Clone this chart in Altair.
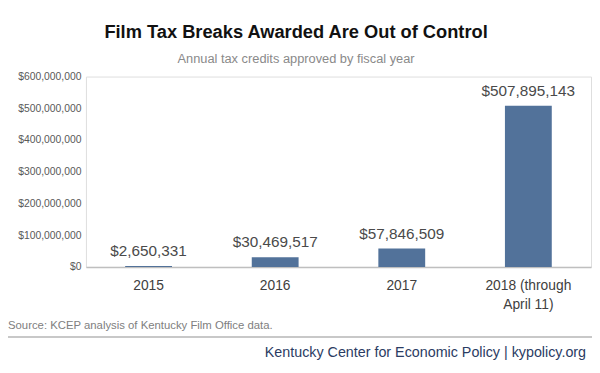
import altair as alt
import pandas as pd

years = ["2015", "2016", "2017", "2018 (through April 11)"]
credits = [2650331, 30469517, 57846509, 507895143]
y_ticks = [0, 100000000, 200000000, 300000000, 400000000, 500000000, 600000000]

title_text = "Film Tax Breaks Awarded Are Out of Control"
subtitle_text = "Annual tax credits approved by fiscal year"
source_text = "Source: KCEP analysis of Kentucky Film Office data."
footer_text = "Kentucky Center for Economic Policy | kypolicy.org"

FONT = "Liberation Sans, Arial, Helvetica, sans-serif"
W, H = 512, 193
L = 79

df = pd.DataFrame({"year": years, "credits": credits})

x = alt.X(
    "year:N",
    sort=years,
    title=None,
    scale=alt.Scale(paddingInner=0.63, paddingOuter=0.31),
    axis=alt.Axis(
        labelAngle=0,
        labelFont=FONT,
        labelFontSize=14,
        labelColor="#404040",
        labelPadding=12,
        labelBaseline="top",
        labelLineHeight=19,
        labelExpr="datum.label == '2018 (through April 11)' ? ['2018 (through', 'April 11)'] : datum.label",
        ticks=False,
        domainColor="#bfbfbf",
        domainWidth=1.5,
    ),
)
y = alt.Y(
    "credits:Q",
    title=None,
    scale=alt.Scale(domain=[0, 600000000], nice=False),
    axis=alt.Axis(
        values=y_ticks,
        format="$,.0f",
        labelFont=FONT,
        labelFontSize=10.5,
        labelColor="#595959",
        labelPadding=5,
        labelOverlap=False,
        ticks=False,
        domain=False,
        grid=False,
    ),
)

bars = alt.Chart(df).mark_bar(color="#52729a").encode(x=x, y=y)
labels = alt.Chart(df).mark_text(
    font=FONT, fontSize=15.5, color="#4a4a4a", baseline="bottom", dy=-7
).encode(x=x, y=y, text=alt.Text("credits:Q", format="$,.0f"))

def note(text, xv, yv, size, color, align="center", weight="normal", baseline="middle"):
    return alt.Chart(pd.DataFrame({"t": [text]})).mark_text(
        font=FONT, fontSize=size, color=color, align=align, fontWeight=weight, baseline=baseline
    ).encode(x=alt.value(xv), y=alt.value(yv), text="t:N")

title = note(title_text, 292 - L, -45, 18.5, "#111111", weight="bold")
subtitle = note(subtitle_text, 292 - L, -18, 13, "#8a8a8a")
source = note(source_text, -L, 253, 11.5, "#808080", align="left")
footer = note(footer_text, 586 - L, 280, 14.5, "#2b3c63", align="right")

rule = alt.Chart(pd.DataFrame({"a": [0]})).mark_rule(color="#c8c8c8", strokeWidth=2).encode(
    x=alt.value(-L), x2=alt.value(592 - L), y=alt.value(264)
)

chart = alt.layer(bars, labels, title, subtitle, source, footer, rule).properties(
    width=W,
    height=H,
    autosize=alt.AutoSizeParams(type="none"),
    padding={"left": L, "top": 67, "right": 1, "bottom": 105},
).configure_view(stroke=None).configure(background="white")

chart.save("out.html", embed_options={"renderer": "svg", "actions": False})
